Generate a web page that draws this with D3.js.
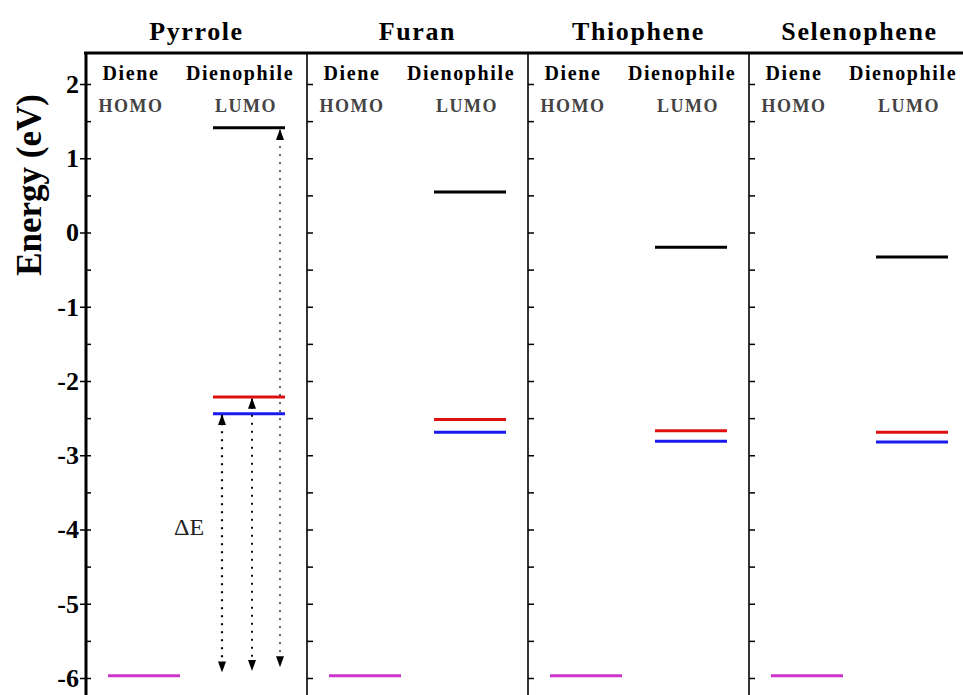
<!DOCTYPE html>
<html>
<head>
<meta charset="utf-8">
<script src="https://cdn.jsdelivr.net/npm/d3@7/dist/d3.min.js"></script>
<style>
  body { margin: 0; background: #fff; }
  svg { display: block; font-family: "Liberation Serif", "DejaVu Serif", serif; }
</style>
</head>
<body>
<div id="chart"></div>
<script>
// molecules (one panel each)
const molecules = ['Pyrrole', 'Furan', 'Thiophene', 'Selenophene']
// diene HOMO levels (eV)
const homo = [-5.97, -5.97, -5.97, -5.97]
// dienophile LUMO levels (eV)
const lumoBlack = [1.41, 0.545, -0.2, -0.33]
const lumoRed = [-2.215, -2.52, -2.67, -2.69]
const lumoBlue = [-2.44, -2.69, -2.81, -2.82]
// ΔE arrows in the Pyrrole panel: top and bottom energies
const arrowTop = [-2.46, -2.24, 1.38]
const arrowBottom = [-5.91, -5.89, -5.84]
const yTicks = [2, 1, 0, -1, -2, -3, -4, -5, -6]

const width = 963
const height = 695
const frameTop = 53

const svg = d3.select('#chart').append('svg')
  .attr('width', width)
  .attr('height', height)

const y = d3.scaleLinear().domain([-6, 2]).range([678, 84])
const px = d3.scaleLinear().domain([0, 4]).range([86, 970])
const pw = px(1) - px(0)

// arrowhead marker
const defs = svg.append('defs')
defs.append('marker')
  .attr('id', 'head')
  .attr('viewBox', '0 0 10 10')
  .attr('refX', 9).attr('refY', 5)
  .attr('markerWidth', 11).attr('markerHeight', 8)
  .attr('markerUnits', 'userSpaceOnUse')
  .attr('orient', 'auto-start-reverse')
  .attr('preserveAspectRatio', 'none')
  .append('path')
  .attr('d', 'M0,0 L10,5 L0,10 Z')
  .attr('fill', '#000')

// frame: top line
svg.append('line')
  .attr('x1', px(0) - 2).attr('x2', width)
  .attr('y1', frameTop).attr('y2', frameTop)
  .attr('stroke', '#000').attr('stroke-width', 3)

const halfTicks = d3.range(-6, 2.01, 0.5)

molecules.forEach((m, i) => {
  const x0 = px(i)
  const g = svg.append('g').attr('transform', `translate(${x0},0)`)

  // divider line with inner ticks
  g.append('line')
    .attr('x1', 0).attr('x2', 0)
    .attr('y1', frameTop).attr('y2', height)
    .attr('stroke', '#000').attr('stroke-width', i === 0 ? 3 : 1.6)

  const inner = d3.axisRight(y).tickValues(halfTicks).tickSize(i === 0 ? 5 : 6).tickFormat('')
  g.append('g').call(inner)
    .call(a => a.select('.domain').remove())
    .call(a => a.selectAll('line').attr('stroke', '#000').attr('stroke-width', 1.5))

  // panel title
  svg.append('text')
    .attr('x', x0 + pw / 2)
    .attr('y', 40)
    .attr('text-anchor', 'middle')
    .attr('font-size', 26)
    .attr('letter-spacing', 1.6)
    .attr('font-weight', 'bold')
    .text(m)

  g.append('text').attr('x', 45).attr('y', 80).attr('text-anchor', 'middle')
    .attr('font-size', 20).attr('letter-spacing', 1.6).attr('font-weight', 'bold').text('Diene')
  g.append('text').attr('x', 154).attr('y', 80).attr('text-anchor', 'middle')
    .attr('font-size', 20).attr('letter-spacing', 1.6).attr('font-weight', 'bold').text('Dienophile')
  g.append('text').attr('x', 45).attr('y', 112).attr('text-anchor', 'middle')
    .attr('font-size', 18).attr('letter-spacing', 1.5).attr('font-weight', 'bold').attr('fill', '#444').text('HOMO')
  g.append('text').attr('x', 160).attr('y', 112).attr('text-anchor', 'middle')
    .attr('font-size', 18).attr('letter-spacing', 1.5).attr('font-weight', 'bold').attr('fill', '#444').text('LUMO')

  const level = (v, xa, xb, color) => g.append('line')
    .attr('x1', xa).attr('x2', xb)
    .attr('y1', y(v)).attr('y2', y(v))
    .attr('stroke', color).attr('stroke-width', 3)

  level(homo[i], 22, 94, '#cc33cc')
  level(lumoBlack[i], 127, 199, '#000')
  level(lumoRed[i], 127, 199, '#e01010')
  level(lumoBlue[i], 127, 199, '#1a1aee')
})

// left y axis with labels
const yAxis = d3.axisLeft(y).tickValues(yTicks).tickSize(6).tickPadding(1).tickFormat(d => String(d))
svg.append('g')
  .attr('transform', `translate(${px(0)},0)`)
  .call(yAxis)
  .call(a => a.select('.domain').remove())
  .call(a => a.selectAll('line').attr('stroke', '#000').attr('stroke-width', 1.5))
  .call(a => a.selectAll('text')
    .attr('font-family', '"Liberation Serif", serif')
    .attr('font-size', 26).attr('font-weight', 'bold').attr('fill', '#000'))

svg.append('text')
  .attr('transform', `translate(41,${y(0.64)}) rotate(-90)`)
  .attr('text-anchor', 'middle')
  .attr('font-size', 35)
  .attr('font-weight', 'bold')
  .text('Energy (eV)')

// ΔE arrows (Pyrrole panel)
const arrowX = [136, 166, 194]
const arrowW = [2.2, 2, 1.5]
const arrowC = ['#000', '#111', '#333']
arrowX.forEach((ax, k) => {
  svg.append('line')
    .attr('x1', px(0) + ax).attr('x2', px(0) + ax)
    .attr('y1', y(arrowTop[k])).attr('y2', y(arrowBottom[k]))
    .attr('stroke', arrowC[k])
    .attr('stroke-width', arrowW[k])
    .attr('stroke-dasharray', '2,6')
    .attr('marker-start', 'url(#head)')
    .attr('marker-end', 'url(#head)')
})

svg.append('text')
  .attr('x', px(0) + 103)
  .attr('y', 535)
  .attr('text-anchor', 'middle')
  .attr('font-family', '"Liberation Serif", serif')
  .attr('font-size', 24)
  .attr('fill', '#222')
  .text('ΔE')
</script>
</body>
</html>
